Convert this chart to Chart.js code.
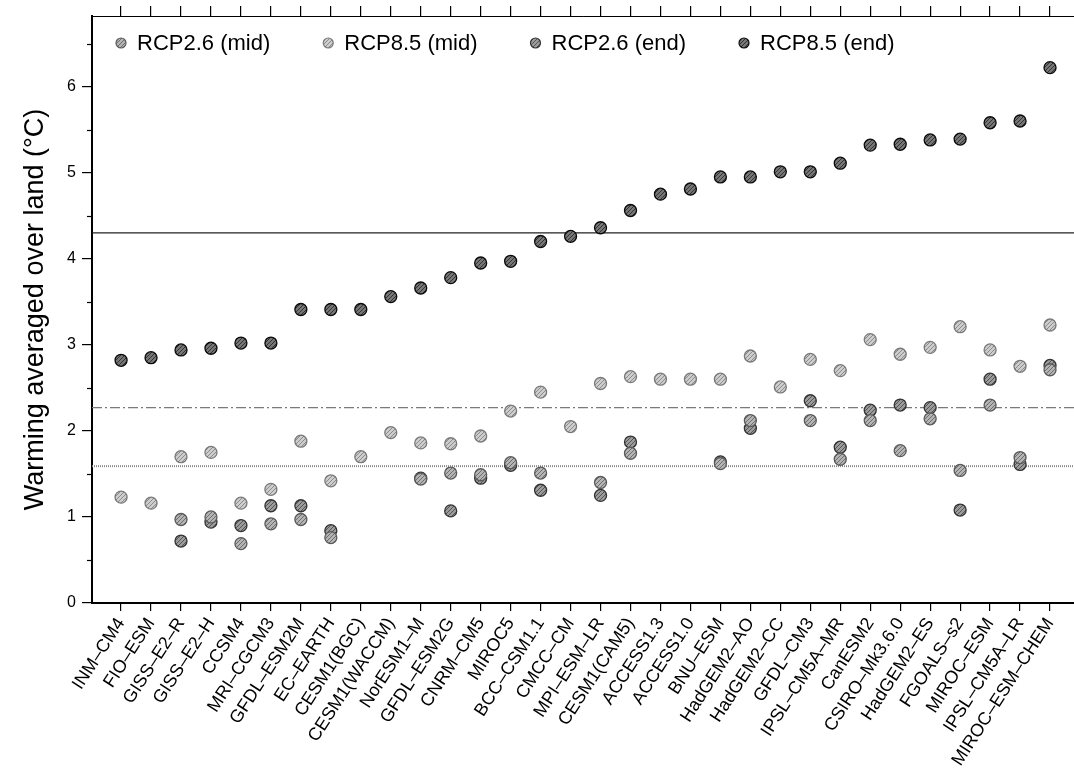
<!DOCTYPE html>
<html>
<head>
<meta charset="utf-8">
<script src="https://cdn.jsdelivr.net/npm/chart.js@4.4.1/dist/chart.umd.min.js"></script>
<style>
  html, body { margin: 0; padding: 0; background: #fff; overflow: hidden; }
  #wrap { width: 1074px; height: 778px; position: relative; }
</style>
</head>
<body>
<div id="wrap"><canvas id="c"></canvas></div>
<script>
// CMIP5 models, ordered by end-of-century RCP8.5 warming
const models = ['INM–CM4', 'FIO–ESM', 'GISS–E2–R', 'GISS–E2–H', 'CCSM4', 'MRI–CGCM3',
  'GFDL–ESM2M', 'EC–EARTH', 'CESM1(BGC)', 'CESM1(WACCM)', 'NorESM1–M', 'GFDL–ESM2G',
  'CNRM–CM5', 'MIROC5', 'BCC–CSM1.1', 'CMCC–CM', 'MPI–ESM–LR', 'CESM1(CAM5)',
  'ACCESS1.3', 'ACCESS1.0', 'BNU–ESM', 'HadGEM2–AO', 'HadGEM2–CC', 'GFDL–CM3',
  'IPSL–CM5A–MR', 'CanESM2', 'CSIRO–Mk3.6.0', 'HadGEM2–ES', 'FGOALS–s2', 'MIROC–ESM',
  'IPSL–CM5A–LR', 'MIROC–ESM–CHEM'];

// Warming averaged over land (°C); null = scenario not available
const rcp26Mid = [null, null, 0.97, 1.00, 0.69, 0.92, 0.97, 0.76, null, null, 1.44, 1.51,
  1.49, 1.63, 1.51, null, 1.40, 1.74, null, null, 1.62, 2.12, null, 2.12,
  1.67, 2.12, 1.77, 2.14, 1.54, 2.30, 1.69, 2.71];
const rcp85Mid = [1.23, 1.16, 1.70, 1.75, 1.16, 1.32, 1.88, 1.42, 1.70, 1.98, 1.86, 1.85,
  1.94, 2.23, 2.45, 2.05, 2.55, 2.63, 2.60, 2.60, 2.60, 2.87, 2.51, 2.83,
  2.70, 3.06, 2.89, 2.97, 3.21, 2.94, 2.75, 3.23];
const rcp26End = [null, null, 0.72, 0.94, 0.90, 1.13, 1.13, 0.84, null, null, 1.45, 1.07,
  1.45, 1.60, 1.31, null, 1.25, 1.87, null, null, 1.64, 2.03, null, 2.35,
  1.81, 2.24, 2.30, 2.27, 1.08, 2.60, 1.61, 2.76];
const rcp85End = [2.82, 2.85, 2.94, 2.96, 3.02, 3.02, 3.41, 3.41, 3.41, 3.56, 3.66, 3.78,
  3.95, 3.97, 4.20, 4.26, 4.36, 4.56, 4.75, 4.81, 4.95, 4.95, 5.01, 5.01,
  5.11, 5.32, 5.33, 5.38, 5.39, 5.58, 5.60, 6.22];

// Ensemble reference levels (RCP8.5 end, RCP8.5 mid, RCP2.6)
const meanLevels = [4.30, 2.27, 1.59];
const yTickValues = [0, 1, 2, 3, 4, 5, 6];
const yMinorValues = [0.5, 1.5, 2.5, 3.5, 4.5, 5.5, 6.5];

const X_MIN = -0.97, X_MAX = 31.8, Y_MAX = 6.82;
const FONT = "'Liberation Sans', Arial, Helvetica, sans-serif";

// Hatched fills for the markers
function hatch(base, stroke) {
  const c = document.createElement('canvas');
  c.width = 4; c.height = 4;
  const g = c.getContext('2d');
  g.fillStyle = base;
  g.fillRect(0, 0, 4, 4);
  g.strokeStyle = stroke;
  g.lineWidth = 1;
  g.beginPath();
  g.moveTo(0, 4); g.lineTo(4, 0);
  g.moveTo(-1, 1); g.lineTo(1, -1);
  g.moveTo(3, 5); g.lineTo(5, 3);
  g.stroke();
  return g.createPattern(c, 'repeat');
}

function points(arr) {
  return arr.map((v, i) => (v === null ? null : { x: i, y: v })).filter(p => p);
}

function markerSet(label, values, fill, border) {
  return {
    label, data: points(values), showLine: false,
    pointRadius: 6, pointHoverRadius: 6, pointBorderWidth: 1.3,
    pointBackgroundColor: fill, pointBorderColor: border,
    backgroundColor: fill, borderColor: border, order: 0
  };
}

function levelLine(y, color, width, dash) {
  return {
    label: '', isLevel: true,
    data: [{ x: X_MIN, y }, { x: X_MAX, y }],
    showLine: true, pointRadius: 0, pointHoverRadius: 0,
    borderColor: color, borderWidth: width, borderDash: dash, order: 10
  };
}

const datasets = [
  markerSet('RCP2.6 (mid)', rcp26Mid, hatch('#b4b4b4', '#6e6e6e'), '#5a5a5a'),
  markerSet('RCP8.5 (mid)', rcp85Mid, hatch('#cdcdcd', '#8c8c8c'), '#7a7a7a'),
  markerSet('RCP2.6 (end)', rcp26End, hatch('#9c9c9c', '#555555'), '#333333'),
  markerSet('RCP8.5 (end)', rcp85End, hatch('#767676', '#333333'), '#0a0a0a'),
  levelLine(meanLevels[0], '#222222', 1.2, []),
  levelLine(meanLevels[1], '#7a7a7a', 1.2, [10, 3, 2, 3]),
  levelLine(meanLevels[2], '#8a8a8a', 2, [1, 1])
];

const categoryTicks = (scale) => {
  scale.ticks = models.map((_, i) => ({ value: i }));
};

// Short minor ticks on the value axis
const minorTicks = {
  id: 'minorTicks',
  afterDraw(chart) {
    const y = chart.scales.y, ctx = chart.ctx, left = chart.chartArea.left;
    ctx.save();
    ctx.strokeStyle = '#000';
    ctx.lineWidth = 1.2;
    yMinorValues.forEach(v => {
      const py = Math.round(y.getPixelForValue(v)) + 0.5;
      ctx.beginPath();
      ctx.moveTo(left - 5, py);
      ctx.lineTo(left, py);
      ctx.stroke();
    });
    ctx.restore();
  }
};

// Legend row drawn inside the plot frame
const innerLegend = {
  id: 'innerLegend',
  afterDatasetsDraw(chart) {
    const ctx = chart.ctx, area = chart.chartArea;
    ctx.save();
    ctx.font = '22px ' + FONT;
    ctx.textBaseline = 'middle';
    ctx.fillStyle = '#000';
    let x = area.left + 29;
    const y = area.top + 27;
    chart.data.datasets.filter(d => !d.isLevel).forEach(d => {
      ctx.beginPath();
      ctx.arc(x, y, 5, 0, Math.PI * 2);
      ctx.fillStyle = d.pointBackgroundColor;
      ctx.fill();
      ctx.lineWidth = 1.2;
      ctx.strokeStyle = d.pointBorderColor;
      ctx.stroke();
      ctx.fillStyle = '#000';
      ctx.fillText(d.label, x + 16, y + 1);
      x += 16 + ctx.measureText(d.label).width + 58;
    });
    ctx.restore();
  }
};

new Chart(document.getElementById('c'), {
  type: 'scatter',
  data: { datasets },
  plugins: [minorTicks, innerLegend],
  options: {
    responsive: true,
    maintainAspectRatio: false,
    animation: false,
    devicePixelRatio: 1,
    layout: { padding: 0, autoPadding: false },
    plugins: { legend: { display: false }, tooltip: { enabled: false } },
    scales: {
      x: {
        type: 'linear', position: 'bottom', min: X_MIN, max: X_MAX,
        afterBuildTicks: categoryTicks,
        afterFit(s) { s.height = 175; s.paddingLeft = 0; s.paddingRight = 0; },
        ticks: {
          autoSkip: false, minRotation: 57, maxRotation: 57, padding: 3,
          color: '#000', font: { family: FONT, size: 18 },
          callback: (v) => models[v]
        },
        grid: { drawOnChartArea: false, drawTicks: true, tickLength: 8, color: '#000', lineWidth: 1.2 },
        border: { display: true, color: '#000', width: 2 }
      },
      xTop: {
        type: 'linear', position: 'top', min: X_MIN, max: X_MAX,
        afterBuildTicks: categoryTicks,
        afterFit(s) { s.height = 16; s.paddingLeft = 0; s.paddingRight = 0; },
        ticks: { display: false },
        grid: { drawOnChartArea: false, drawTicks: true, tickLength: 10, color: '#000', lineWidth: 1.2 },
        border: { display: true, color: '#000', width: 1 }
      },
      y: {
        type: 'linear', position: 'left', min: 0, max: Y_MAX,
        afterBuildTicks(s) { s.ticks = yTickValues.map(v => ({ value: v })); },
        afterFit(s) { s.width = 92; },
        ticks: { padding: 6, color: '#000', font: { family: FONT, size: 16 } },
        grid: { drawOnChartArea: false, drawTicks: true, tickLength: 10, color: '#000', lineWidth: 1.2 },
        border: { display: true, color: '#000', width: 2 },
        title: {
          display: true, text: 'Warming averaged over land (°C)', color: '#000',
          font: { family: FONT, size: 27 }, padding: { top: 19, bottom: 0 }
        }
      }
    }
  }
});
</script>
</body>
</html>
